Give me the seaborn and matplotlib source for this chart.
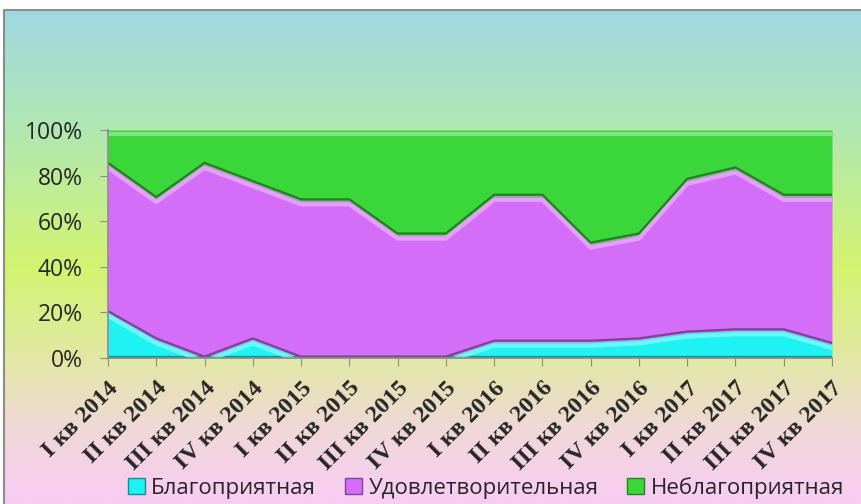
import numpy as np
import pandas as pd
import seaborn as sns
import matplotlib.pyplot as plt
from matplotlib.colors import LinearSegmentedColormap, to_rgb
from matplotlib.patches import Rectangle
from matplotlib.ticker import PercentFormatter

# data (share of each group, %)
quarters = ['I кв 2014', 'II кв 2014', 'III кв 2014', 'IV кв 2014',
            'I кв 2015', 'II кв 2015', 'III кв 2015', 'IV кв 2015',
            'I кв 2016', 'II кв 2016', 'III кв 2016', 'IV кв 2016',
            'I кв 2017', 'II кв 2017', 'III кв 2017', 'IV кв 2017']
good = [20, 8, 0, 8, 0, 0, 0, 0, 7, 7, 7, 8, 11, 12, 12, 6]
fair = [65, 62, 85, 69, 69, 69, 54, 54, 64, 64, 43, 46, 67, 71, 59, 65]
bad = [15, 30, 15, 23, 31, 31, 46, 46, 29, 29, 50, 46, 22, 17, 29, 29]
names = ['Благоприятная', 'Удовлетворительная', 'Неблагоприятная']
colors = ['#1ef2f2', '#d46ef8', '#3ad63a']

df = pd.DataFrame({'x': range(len(quarters)), names[0]: good, names[1]: fair, names[2]: bad})
tot = df[names].sum(axis=1)
for n in names:
    df[n] = df[n] / tot * 100

sns.set_style('white')
plt.rcParams['font.family'] = ['Open Sans', 'DejaVu Sans']

fig = plt.figure(figsize=(8.61, 5.04), dpi=100)

# gradient background with grey frame
bg = fig.add_axes([0, 0, 1, 1], zorder=-10)
bg.set_axis_off()
cmap = LinearSegmentedColormap.from_list('bg', [
    (0.0, '#9fd8e2'), (0.25, '#b2e8b0'), (0.52, '#d3f470'),
    (0.70, '#e1e8a2'), (0.85, '#f0d8d8'), (1.0, '#f8ccf4')])
grad = np.linspace(0, 1, 256).reshape(-1, 1)
x0, y1 = 4 / 861, 1 - 10 / 504
bg.imshow(grad, aspect='auto', cmap=cmap, extent=[x0, 1, 0, y1], origin='upper', zorder=0)
bg.set_xlim(0, 1)
bg.set_ylim(0, 1)
bg.plot([x0, x0, 1], [0, y1, y1], color='#8c8c8c', lw=1.5, zorder=1)

ax = fig.add_axes([108 / 861, 1 - 358 / 504, 724 / 861, 228 / 504])
ax.patch.set_alpha(0)
ax.stackplot(df['x'], [df[n] for n in names], colors=colors, linewidth=0)

# bevel edges
def shade(c, f):
    r = np.array(to_rgb(c))
    return tuple(np.clip(r * f, 0, 1)) if f < 1 else tuple(r + (1 - r) * (f - 1))

cum = np.zeros(len(df))
for i, n in enumerate(names):
    low = cum.copy()
    cum = cum + df[n].values
    sns.lineplot(x=df['x'], y=low + 0.6, color=shade(colors[i], 0.6), lw=1.6, ax=ax)
    sns.lineplot(x=df['x'], y=cum - 1.6, color=shade(colors[i], 1.45), lw=3, ax=ax, alpha=0.8)

ax.set_xlim(0, len(quarters) - 1)
ax.set_ylim(0, 100)
ax.yaxis.set_major_formatter(PercentFormatter(decimals=0))
ax.set_yticks(range(0, 101, 20))
ax.set_xticks(df['x'])
ax.set_xticklabels(quarters, rotation=45, ha='right', va='top', rotation_mode='anchor',
                   family='Liberation Serif', fontweight='bold', fontsize=17.5)
ax.tick_params(axis='y', labelsize=16.5, length=6, color='#8c8c8c', direction='out', left=True, pad=12)
ax.tick_params(axis='x', length=6, color='#8c8c8c', direction='out', bottom=True, pad=8)
ax.set_xlabel('')
ax.set_ylabel('')
for s in ['top', 'right']:
    ax.spines[s].set_visible(False)
for s in ['left', 'bottom']:
    ax.spines[s].set_color('#8c8c8c')
    ax.spines[s].set_linewidth(1.2)

handles = [Rectangle((0, 0), 1, 1, fc=c, ec=shade(c, 0.6), lw=1) for c in colors]
fig.legend(handles, names, loc='center', bbox_to_anchor=(0.5645, 1 - 488 / 504), ncol=3,
           frameon=False, fontsize=16, handlelength=0.75, handleheight=0.75,
           handletextpad=0.3, columnspacing=1.3, borderaxespad=0)

fig.savefig('out.png', dpi=100)
